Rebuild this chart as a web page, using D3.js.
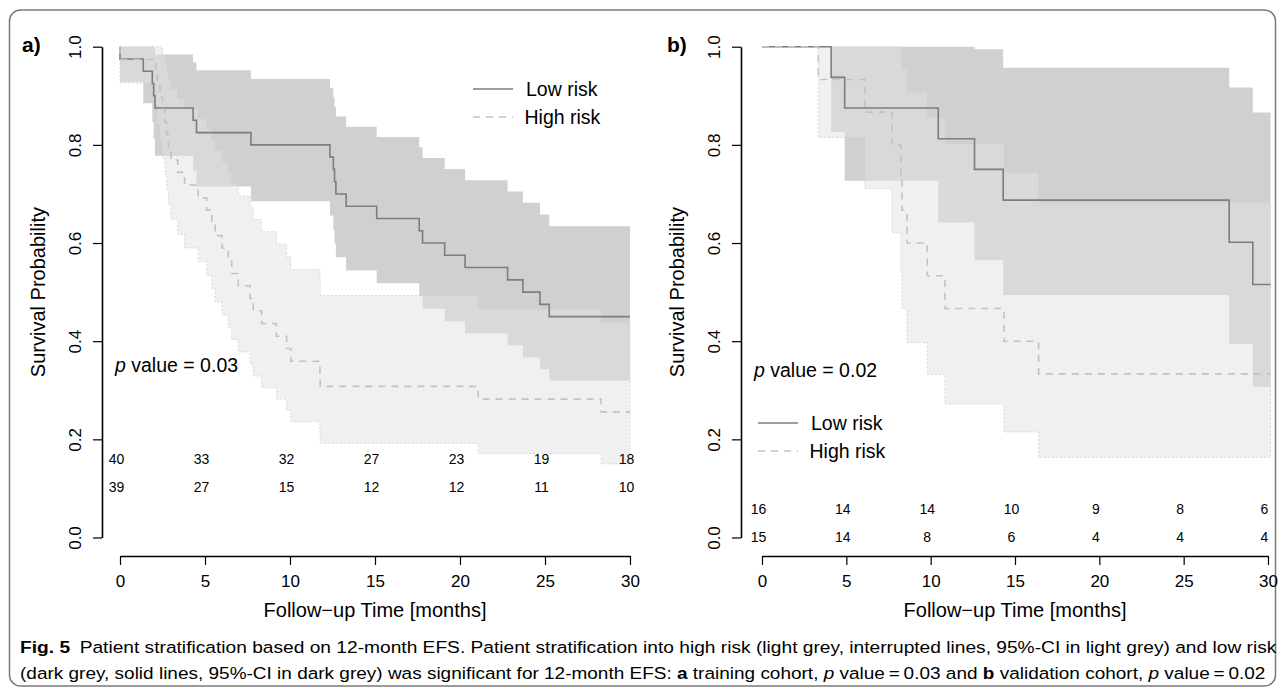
<!DOCTYPE html>
<html>
<head>
<meta charset="utf-8">
<script src="https://cdn.jsdelivr.net/npm/d3@7"></script>
<style>
  body { margin: 0; background: #fff; }
  svg { display: block; }
  text { font-family: "Liberation Sans", Arial, Helvetica, sans-serif; fill: #000; }
</style>
</head>
<body>
<div id="chart"></div>
<script>
// ////////// DATA /////////////

// panel a) training cohort
var aLowTime  = [0, 0, 1.37, 1.9, 1.98, 2.06, 4.3, 4.5, 7.7, 12.35, 12.55, 12.62, 12.7, 13.3, 15.1, 17.6, 17.8, 19.1, 20.3, 22.8, 23.7, 24.7, 25.25, 30]
var aLowSurv  = [1, 0.975, 0.95, 0.925, 0.9, 0.875, 0.85, 0.825, 0.8, 0.775, 0.75, 0.725, 0.7, 0.675, 0.65, 0.625, 0.6, 0.575, 0.55, 0.525, 0.5, 0.475, 0.45, 0.45]
var aLowLower = [1, 0.928, 0.885, 0.847, 0.812, 0.778, 0.746, 0.715, 0.685, 0.656, 0.627, 0.599, 0.571, 0.544, 0.518, 0.492, 0.466, 0.44, 0.416, 0.391, 0.367, 0.343, 0.32, 0.32]
var aLowUpper = [1, 1, 1, 1, 0.998, 0.984, 0.968, 0.952, 0.934, 0.916, 0.897, 0.877, 0.858, 0.837, 0.816, 0.795, 0.773, 0.751, 0.728, 0.705, 0.682, 0.658, 0.634, 0.634]

var aHighTime  = [0, 0, 2.1, 2.2, 2.35, 2.5, 2.65, 2.75, 2.85, 3.0, 3.4, 3.8, 4.6, 5.1, 5.4, 5.6, 6.0, 6.37, 6.57, 6.96, 7.65, 7.84, 8.33, 9.2, 9.8, 10.05, 11.76, 11.78, 21.07, 28.3, 30]
var aHighSurv  = [1, 0.974, 0.949, 0.923, 0.897, 0.872, 0.846, 0.821, 0.795, 0.769, 0.744, 0.718, 0.692, 0.667, 0.641, 0.615, 0.59, 0.564, 0.538, 0.513, 0.487, 0.462, 0.436, 0.41, 0.385, 0.359, 0.333, 0.308, 0.282, 0.256, 0.256]
var aHighLower = [1, 0.926, 0.882, 0.843, 0.807, 0.773, 0.74, 0.709, 0.678, 0.648, 0.618, 0.59, 0.562, 0.534, 0.507, 0.48, 0.454, 0.428, 0.403, 0.378, 0.353, 0.329, 0.305, 0.282, 0.259, 0.236, 0.214, 0.192, 0.171, 0.15, 0.15]
var aHighUpper = [1, 1, 1, 1, 0.998, 0.983, 0.967, 0.95, 0.932, 0.914, 0.894, 0.874, 0.853, 0.832, 0.811, 0.789, 0.766, 0.743, 0.72, 0.696, 0.672, 0.648, 0.623, 0.598, 0.572, 0.546, 0.52, 0.493, 0.465, 0.438, 0.438]

var aLowRisk  = [40, 33, 32, 27, 23, 19, 18]
var aHighRisk = [39, 27, 15, 12, 12, 11, 10]

// panel b) validation cohort
var bLowTime  = [0, 4.1, 4.9, 10.45, 12.6, 14.3, 27.7, 29.1, 30.15]
var bLowSurv  = [1, 0.9375, 0.875, 0.8125, 0.75, 0.6875, 0.6016, 0.5156, 0.5156]
var bLowLower = [1, 0.826, 0.727, 0.642, 0.565, 0.494, 0.395, 0.307, 0.307]
var bLowUpper = [1, 1, 1, 1, 0.995, 0.957, 0.917, 0.866, 0.866]

var bHighTime  = [0, 3.34, 6.1, 7.7, 8.23, 8.3, 8.6, 9.8, 10.85, 14.35, 16.4, 30.15]
var bHighSurv  = [1, 0.9333, 0.8667, 0.8, 0.7333, 0.6667, 0.6, 0.5333, 0.4667, 0.4, 0.3333, 0.3333]
var bHighLower = [1, 0.815, 0.711, 0.621, 0.54, 0.466, 0.397, 0.332, 0.272, 0.215, 0.163, 0.163]
var bHighUpper = [1, 1, 1, 1, 0.995, 0.953, 0.907, 0.856, 0.802, 0.743, 0.682, 0.682]

var bLowRisk  = [16, 14, 14, 10, 9, 8, 6]
var bHighRisk = [15, 14, 8, 6, 4, 4, 4]

var riskTimes = [0, 5, 10, 15, 20, 25, 30]
var xTicks = [0, 5, 10, 15, 20, 25, 30]
var yTicks = [0, 0.2, 0.4, 0.6, 0.8, 1.0]

///////// GLOBAL VARS //////////

var W = 1284, H = 693
var lowLine = "#7d7d7d", highLine = "#c2c2c2"

var svg = d3.select("#chart")
  .append("svg")
  .attr("width", W)
  .attr("height", H)

// rounded frame around the figure
svg.append("rect")
  .attr("x", 9.5).attr("y", 10)
  .attr("width", 1266).attr("height", 676)
  .attr("rx", 11).attr("ry", 11)
  .attr("fill", "none")
  .attr("stroke", "#7a7a7a")
  .attr("stroke-width", 1.5)

function rows(time, surv, lo, hi) {
  return time.map((t, i) => ({ t: t, s: surv[i], lo: lo[i], hi: hi[i] }))
}

function drawPanel(p) {
  var g = svg.append("g")

  var x = d3.scaleLinear().domain([0, 30]).range(p.xRange)
  var y = d3.scaleLinear().domain([0, 1]).range([537.5, 46.7])

  var low = rows(p.low[0], p.low[1], p.low[2], p.low[3])
  var high = rows(p.high[0], p.high[1], p.high[2], p.high[3])

  var band = d3.area()
    .x(d => x(d.t)).y0(d => y(d.lo)).y1(d => y(d.hi))
    .curve(d3.curveStepAfter)
  var line = d3.line()
    .x(d => x(d.t)).y(d => y(d.s))
    .curve(d3.curveStepAfter)

  // 95%-CI bands: dark for low risk, light (translucent) on top for high risk
  g.append("path").datum(low)
    .attr("d", band)
    .attr("fill", "#d0d0d0")
  g.append("path").datum(high)
    .attr("d", band)
    .attr("fill", "#e1e1e1")
    .attr("fill-opacity", 0.5)
    .attr("stroke", "#cfcfcf")
    .attr("stroke-width", 0.8)
    .attr("stroke-dasharray", "2,2")

  // survival curves
  g.append("path").datum(low)
    .attr("d", line)
    .attr("fill", "none")
    .attr("stroke", lowLine)
    .attr("stroke-width", 1.6)
  g.append("path").datum(high)
    .attr("d", line)
    .attr("fill", "none")
    .attr("stroke", highLine)
    .attr("stroke-width", 1.6)
    .attr("stroke-dasharray", "7,6")

  // x axis
  var xAxis = g.append("g")
    .attr("transform", "translate(0,556)")
    .call(d3.axisBottom(x).tickValues(xTicks).tickSize(9).tickSizeOuter(0).tickPadding(10))
  xAxis.select(".domain").attr("stroke", "#000").attr("stroke-width", 1.6)
  xAxis.selectAll(".tick line").attr("stroke", "#000").attr("stroke-width", 1.2)
  xAxis.selectAll(".tick text")
    .attr("font-size", 17)
    .attr("font-family", "Liberation Sans, Arial, sans-serif")
    .attr("fill", "#000")

  // y axis (rotated labels, R style)
  var yAxis = g.append("g")
    .attr("transform", `translate(${p.yAxisX},0)`)
    .call(d3.axisLeft(y).tickValues(yTicks).tickSize(9).tickSizeOuter(0).tickFormat(d3.format(".1f")))
  yAxis.select(".domain").attr("stroke", "#000").attr("stroke-width", 1.6)
  yAxis.selectAll(".tick line").attr("stroke", "#000").attr("stroke-width", 1.2)
  yAxis.selectAll(".tick text")
    .attr("font-size", 17)
    .attr("font-family", "Liberation Sans, Arial, sans-serif")
    .attr("fill", "#000")
    .attr("x", null).attr("dy", null)
    .attr("text-anchor", "middle")
    .attr("transform", "translate(-21,0) rotate(-90)")

  // axis titles
  g.append("text")
    .attr("x", (p.xRange[0] + p.xRange[1]) / 2)
    .attr("y", 617)
    .attr("text-anchor", "middle")
    .attr("font-size", 20)
    .text("Follow\u2212up Time [months]")

  g.append("text")
    .attr("transform", `translate(${p.yAxisX - 57},${(y(0) + y(1)) / 2}) rotate(-90)`)
    .attr("text-anchor", "middle")
    .attr("font-size", 20)
    .text("Survival Probability")

  // panel letter
  g.append("text")
    .attr("x", p.letterX).attr("y", 52)
    .attr("font-size", 21)
    .attr("font-weight", "bold")
    .text(p.letter)

  // p value
  var pv = g.append("text")
    .attr("x", p.pX).attr("y", p.pY)
    .attr("font-size", 19.5)
  pv.append("tspan").attr("font-style", "italic").text("p")
  pv.append("tspan").text(" value = " + p.pValue)

  // legend
  var lg = g.append("g").attr("transform", `translate(${p.legX},${p.legY})`)
  lg.append("line")
    .attr("x1", 0).attr("x2", 40).attr("y1", 0).attr("y2", 0)
    .attr("stroke", lowLine).attr("stroke-width", 1.6)
  lg.append("line")
    .attr("x1", 0).attr("x2", 40).attr("y1", 28).attr("y2", 28)
    .attr("stroke", highLine).attr("stroke-width", 1.6)
    .attr("stroke-dasharray", "7,6")
  lg.append("text").attr("x", 53).attr("y", 7).attr("font-size", 19.5).text("Low risk")
  lg.append("text").attr("x", 51.5).attr("y", 35).attr("font-size", 19.5).text("High risk")

  // numbers at risk
  g.selectAll(".riskLow")
    .data(p.lowRisk)
    .join("text")
    .attr("x", (d, i) => x(riskTimes[i]) - 3.5)
    .attr("y", p.riskY[0])
    .attr("text-anchor", "middle")
    .attr("font-size", 14)
    .text(d => d)
  g.selectAll(".riskHigh")
    .data(p.highRisk)
    .join("text")
    .attr("x", (d, i) => x(riskTimes[i]) - 3.5)
    .attr("y", p.riskY[1])
    .attr("text-anchor", "middle")
    .attr("font-size", 14)
    .text(d => d)
}

drawPanel({
  letter: "a)", letterX: 22,
  xRange: [120, 630], yAxisX: 102,
  low: [aLowTime, aLowSurv, aLowLower, aLowUpper],
  high: [aHighTime, aHighSurv, aHighLower, aHighUpper],
  lowRisk: aLowRisk, highRisk: aHighRisk, riskY: [464, 491.5],
  pValue: "0.03", pX: 115, pY: 372,
  legX: 473, legY: 89
})

drawPanel({
  letter: "b)", letterX: 667,
  xRange: [762, 1268], yAxisX: 741,
  low: [bLowTime, bLowSurv, bLowLower, bLowUpper],
  high: [bHighTime, bHighSurv, bHighLower, bHighUpper],
  lowRisk: bLowRisk, highRisk: bHighRisk, riskY: [514, 541.5],
  pValue: "0.02", pX: 754, pY: 377,
  legX: 758, legY: 423
})

/////// CAPTION ///////

var captionLines = [
  { y: 653, right: 1277, parts: [
    ["Fig. 5", "bold"],
    ["\u2002Patient stratification based on 12-month EFS. Patient stratification into high risk (light grey, interrupted lines, 95%-CI in light grey) and low risk", ""]
  ] },
  { y: 679, right: 1266, parts: [
    ["(dark grey, solid lines, 95%-CI in dark grey) was significant for 12-month EFS: ", ""],
    ["a", "bold"], [" training cohort, ", ""], ["p", "italic"], [" value\u2009=\u20090.03 and ", ""],
    ["b", "bold"], [" validation cohort, ", ""], ["p", "italic"], [" value\u2009=\u20090.02", ""]
  ] }
]

captionLines.forEach(l => {
  var t = svg.append("text")
    .attr("font-size", 17)
    .attr("fill", "#231f20")
  l.parts.forEach(pt => {
    var ts = t.append("tspan").text(pt[0])
    if (pt[1] == "bold") ts.attr("font-weight", "bold")
    if (pt[1] == "italic") ts.attr("font-style", "italic")
  })
  // squeeze to the condensed width of the original caption
  var w = t.node().getComputedTextLength()
  var k = (l.right - 20) / w
  t.attr("transform", `translate(20,${l.y}) scale(${k},1)`)
})
</script>
</body>
</html>
